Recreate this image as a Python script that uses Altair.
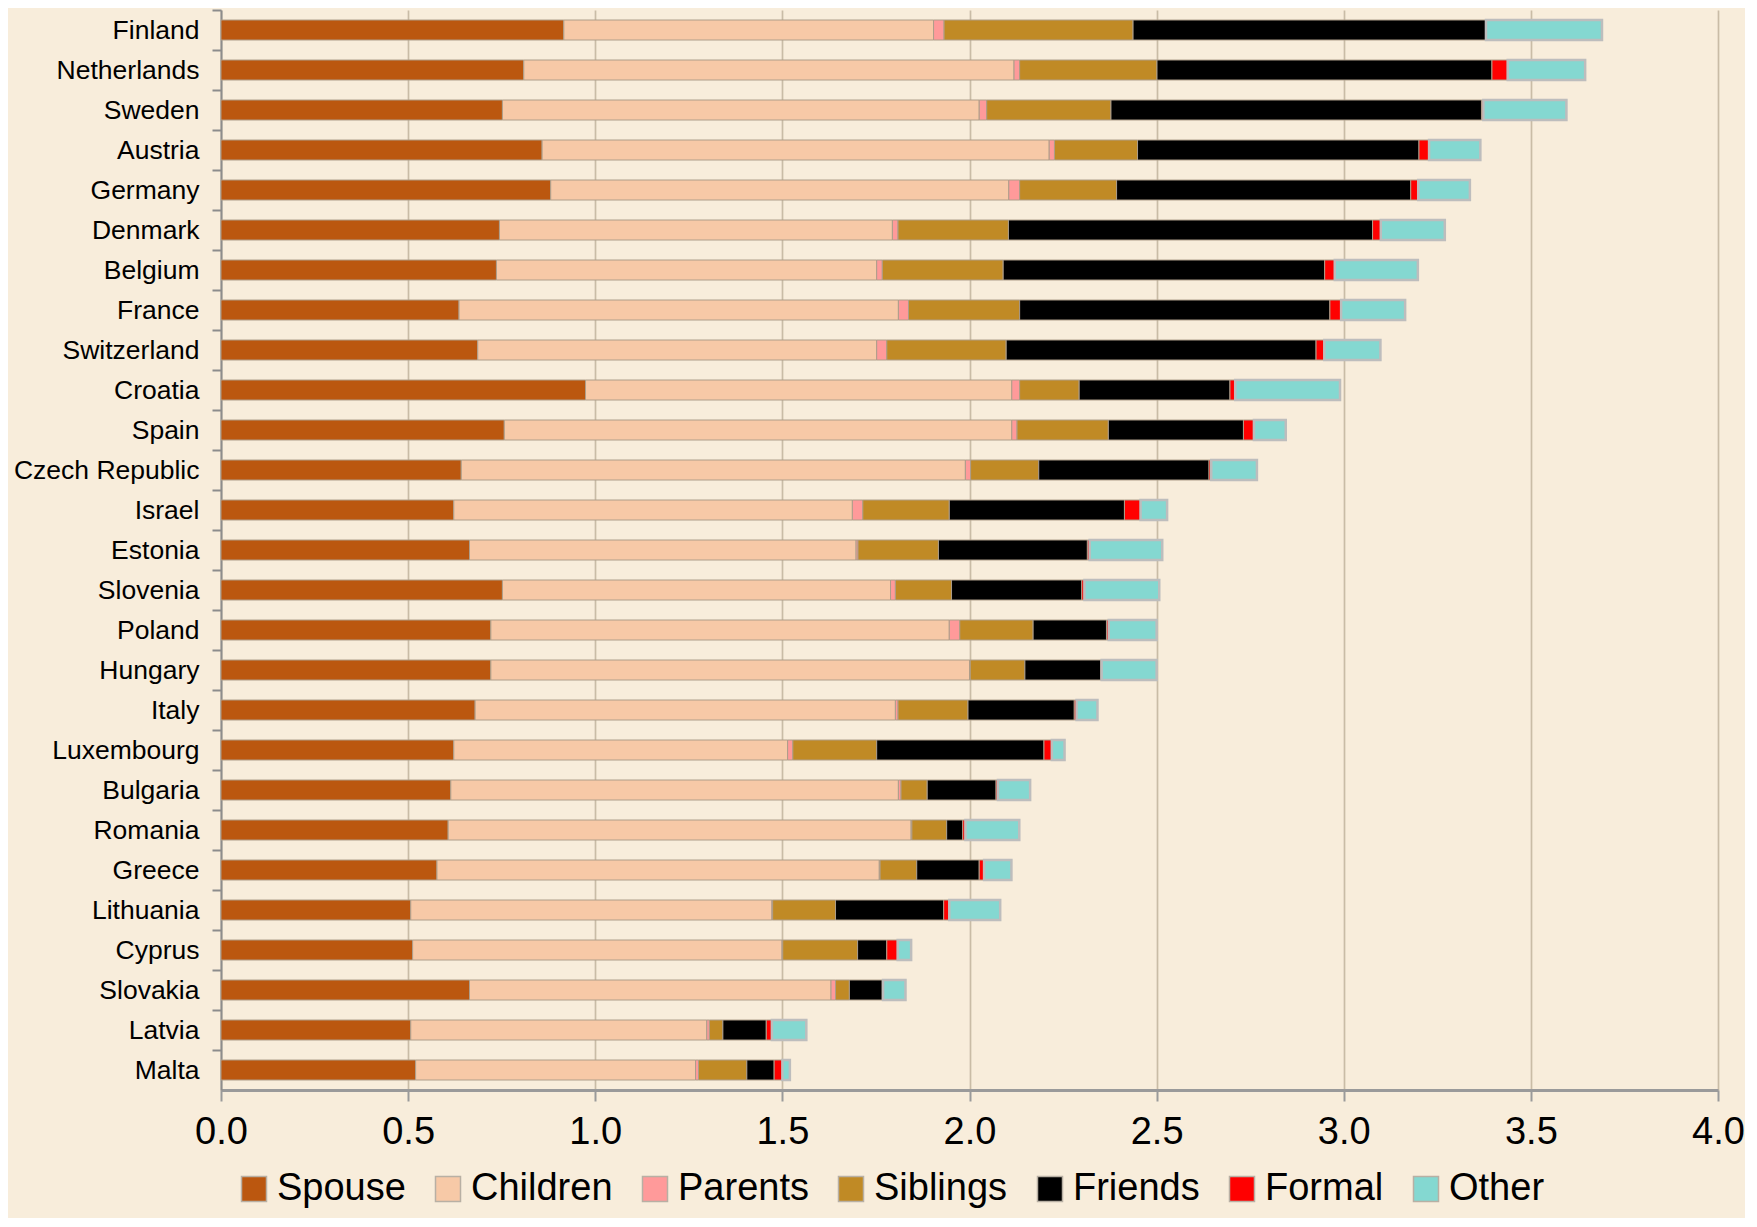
import altair as alt
import pandas as pd

countries = ["Finland", "Netherlands", "Sweden", "Austria", "Germany", "Denmark", "Belgium",
             "France", "Switzerland", "Croatia", "Spain", "Czech Republic", "Israel", "Estonia",
             "Slovenia", "Poland", "Hungary", "Italy", "Luxembourg", "Bulgaria", "Romania",
             "Greece", "Lithuania", "Cyprus", "Slovakia", "Latvia", "Malta"]

categories = ["Spouse", "Children", "Parents", "Siblings", "Friends", "Formal", "Other"]
colors = ["#BB570F", "#F7C9A7", "#FF9A9A", "#C08A25", "#000000", "#FF0000", "#84D8D1"]

spouse = [0.916, 0.809, 0.752, 0.858, 0.881, 0.744, 0.736, 0.636, 0.686, 0.974, 0.757, 0.642, 0.622,
          0.664, 0.752, 0.721, 0.721, 0.679, 0.622, 0.614, 0.607, 0.577, 0.507, 0.512, 0.664, 0.507, 0.520]
children = [0.988, 1.310, 1.274, 1.355, 1.224, 1.050, 1.016, 1.174, 1.066, 1.139, 1.356, 1.347, 1.065,
            1.033, 1.037, 1.225, 1.279, 1.123, 0.892, 1.196, 1.237, 1.182, 0.965, 0.987, 0.966, 0.791, 0.748]
parents = [0.028, 0.015, 0.020, 0.014, 0.029, 0.015, 0.015, 0.027, 0.027, 0.021, 0.014, 0.014, 0.028,
           0.005, 0.013, 0.028, 0.002, 0.007, 0.014, 0.007, 0.002, 0.002, 0.002, 0.002, 0.012, 0.007, 0.008]
siblings = [0.505, 0.367, 0.332, 0.222, 0.259, 0.295, 0.323, 0.297, 0.319, 0.159, 0.244, 0.182, 0.231,
            0.215, 0.150, 0.196, 0.146, 0.187, 0.224, 0.070, 0.093, 0.098, 0.168, 0.200, 0.037, 0.036, 0.129]
friends = [0.943, 0.895, 0.990, 0.752, 0.786, 0.973, 0.859, 0.829, 0.828, 0.403, 0.361, 0.455, 0.468,
           0.398, 0.348, 0.196, 0.203, 0.284, 0.447, 0.184, 0.043, 0.167, 0.289, 0.078, 0.088, 0.116, 0.073]
formal = [0.000, 0.042, 0.005, 0.027, 0.020, 0.022, 0.027, 0.030, 0.022, 0.014, 0.028, 0.006, 0.043,
          0.006, 0.007, 0.006, 0.002, 0.006, 0.021, 0.005, 0.007, 0.013, 0.015, 0.029, 0.002, 0.015, 0.022]
other = [0.310, 0.207, 0.222, 0.137, 0.138, 0.171, 0.222, 0.171, 0.150, 0.280, 0.085, 0.122, 0.071,
         0.194, 0.200, 0.128, 0.147, 0.056, 0.034, 0.086, 0.144, 0.073, 0.136, 0.036, 0.060, 0.092, 0.020]

x_ticks = [0.0, 0.5, 1.0, 1.5, 2.0, 2.5, 3.0, 3.5, 4.0]

series = [spouse, children, parents, siblings, friends, formal, other]
rows = []
for ci, (cat, vals) in enumerate(zip(categories, series)):
    for country, v in zip(countries, vals):
        rows.append({"country": country, "cat": cat, "idx": ci, "value": v})
df = pd.DataFrame(rows)

FONT = "Liberation Sans"
STEP = 40
H = STEP * len(countries)
W = 1497

chart = alt.Chart(df).transform_filter(
    "datum.value > 0"
).mark_bar().encode(
    x=alt.X("value:Q", stack="zero",
            scale=alt.Scale(domain=[0, 4], nice=False, zero=True),
            axis=alt.Axis(values=x_ticks, format=".1f", title=None, labelFlush=False,
                          labelFontSize=38, labelFont=FONT, labelColor="#000000",
                          labelPadding=12, tickSize=11, tickColor="#9A9A9A", tickWidth=2,
                          domainColor="#9A9A9A", domainWidth=3,
                          grid=True, gridColor="#C9BCA6", gridWidth=1.7)),
    y=alt.Y("country:N", sort=countries,
            scale=alt.Scale(paddingInner=0.5, paddingOuter=0.25),
            axis=alt.Axis(title=None, labelFontSize=26.5, labelFont=FONT, labelColor="#000000",
                          labelPadding=13, labelLimit=400, tickSize=9, tickColor="#8C8C8C", tickWidth=2,
                          tickOffset=-STEP / 2, labelOffset=STEP / 2,
                          domainColor="#8C8C8C", domainWidth=2, grid=False)),
    color=alt.Color("cat:N", scale=alt.Scale(domain=categories, range=colors),
                    legend=alt.Legend(title=None, orient="none", direction="horizontal",
                                      columns=7, legendX=14, legendY=1160,
                                      symbolType="square", symbolSize=625,
                                      symbolStrokeColor="#B8B0A4", symbolStrokeWidth=1.5,
                                      symbolOpacity=1,
                                      labelFontSize=38, labelFont=FONT, labelColor="#000000",
                                      labelOffset=4, columnPadding=23)),
    order=alt.Order("idx:Q"),
    stroke=alt.condition(alt.datum.cat == "Other", alt.value("#BDBDBD"), alt.value("#AE9E8A")),
    strokeWidth=alt.condition(alt.datum.cat == "Other", alt.value(2.5), alt.value(1)),
).properties(
    width=W,
    height=H,
    background="#F8EDDB",
    autosize=alt.AutoSizeParams(type="none"),
    padding={"left": 213, "top": 2, "right": 27, "bottom": 128},
).configure_view(stroke=None)

chart.save("out.html", embed_options={"renderer": "svg", "actions": False})
